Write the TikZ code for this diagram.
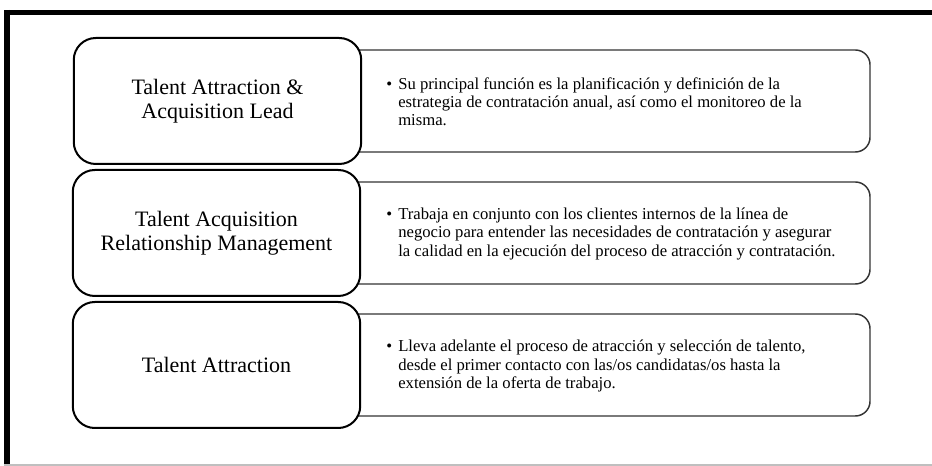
\documentclass[tikz,border=0pt]{standalone}
\usepackage{fontspec}
\setmainfont{Liberation Serif}
\begin{document}
\begin{tikzpicture}[x=0.75pt,y=-0.75pt,
  leftbox/.style={draw=black, line width=1.5pt, fill=white, rounded corners=16.5pt,
    minimum width=215.6pt, minimum height=94.5pt, inner sep=0pt, align=center,
    font=\fontsize{16.5}{17.8}\selectfont},
  rightbox/.style={draw=black!80, line width=1.1pt, fill=white, rounded corners=11pt,
    minimum width=412.5pt, minimum height=76.5pt, inner sep=0pt},
  desc/.style={anchor=west, align=left, inner sep=0pt, font=\fontsize{12.5}{13.6}\selectfont},
  frameline/.style={line width=4.2pt, black}]
\useasboundingbox (0,0) rectangle (932,466);
\fill[white] (0,0) rectangle (932,466);
% frame
\coordinate (ftl) at (4,12.5);
\coordinate (ftr) at (932,12.5);
\coordinate (flt) at (7,10);
\coordinate (flb) at (7,465);
\coordinate (fbl) at (4,465);
\coordinate (fbr) at (932,465);
\draw[frameline] (ftl) -- (ftr);
\draw[frameline] (flt) -- (flb);
\draw[black!25, line width=1pt] (fbl) -- (fbr);
% right boxes
\node[rightbox] (r1) at (595,101) {};
\node[rightbox] (r2) at (595,233) {};
\node[rightbox] (r3) at (595,365) {};
% left boxes
\node[leftbox] (l1) at (217.5,101) {Talent Attraction \&\\Acquisition Lead};
\node[leftbox] (l2) at (216.5,233) {Talent Acquisition\\Relationship Management};
\node[leftbox] (l3) at (216.5,365) {Talent Attraction};
% descriptions
\node[desc] (d1) at (386,102) {\makebox[9pt][l]{\textbullet}Su principal función es la planificación y definición de la\\
\hspace*{9pt}estrategia de contratación anual, así como el monitoreo de la\\
\hspace*{9pt}misma.};
\node[desc] (d2) at (386,234) {\makebox[9pt][l]{\textbullet}Trabaja en conjunto con los clientes internos de la línea de\\
\hspace*{9pt}negocio para entender las necesidades de contratación y asegurar\\
\hspace*{9pt}la calidad en la ejecución del proceso de atracción y contratación.};
\node[desc] (d3) at (386,366) {\makebox[9pt][l]{\textbullet}Lleva adelante el proceso de atracción y selección de talento,\\
\hspace*{9pt}desde el primer contacto con las/os candidatas/os hasta la\\
\hspace*{9pt}extensión de la oferta de trabajo.};
\end{tikzpicture}
\end{document}
